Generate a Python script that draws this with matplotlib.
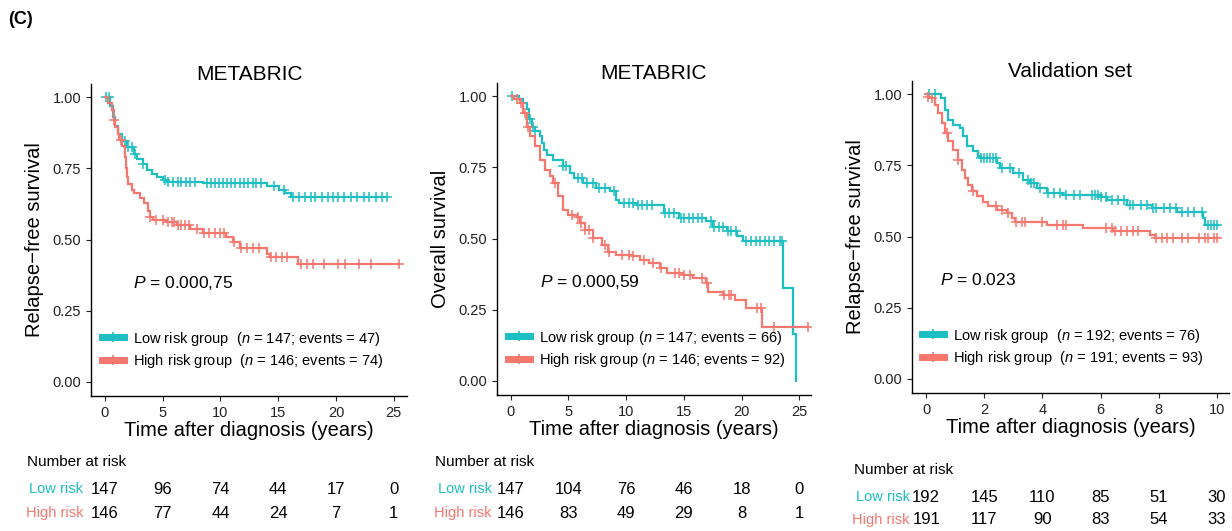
import numpy as np
import matplotlib
matplotlib.use("Agg")
import matplotlib.pyplot as plt
from matplotlib.lines import Line2D
import matplotlib.transforms as mtransforms

plt.rcParams['font.family'] = ['Liberation Sans', 'DejaVu Sans']
plt.rcParams['mathtext.fontset'] = 'custom'
plt.rcParams['mathtext.rm'] = 'Liberation Sans'
plt.rcParams['mathtext.it'] = 'Liberation Sans:italic'

LOW_COL = '#1DBFC2'
HIGH_COL = '#F5776E'

# ---- panel 1: METABRIC relapse-free survival ----
p1_low_t = [0, 0.4, 0.7, 0.9, 1.1, 1.5, 1.9, 2.5, 2.8, 3.3, 3.6, 4.1, 4.5, 5.0, 5.4, 8.5, 14.0, 15.1, 15.6, 16.1, 24.4]
p1_low_s = [1.0, 0.97, 0.93, 0.90, 0.87, 0.845, 0.826, 0.80, 0.785, 0.765, 0.745, 0.73, 0.72, 0.71, 0.703, 0.698, 0.69, 0.675, 0.665, 0.648, 0.648]
p1_low_cens = [0.1, 0.35, 1.7, 2.0, 2.3, 2.6, 3.3, 5.2, 5.5, 5.9, 6.3, 6.6, 7.0, 7.4, 7.8, 8.8, 9.2, 9.5, 9.9,
               10.2, 10.6, 10.9, 11.3, 11.7, 12.0, 12.4, 12.8, 13.1, 13.5, 14.6, 15.5, 16.3, 16.8, 17.3, 17.8,
               18.2, 18.8, 19.3, 19.7, 20.2, 20.7, 21.3, 21.8, 22.4, 22.9, 23.5, 24.0, 24.4]
p1_high_t = [0, 0.3, 0.6, 0.8, 0.9, 1.1, 1.2, 1.5, 1.7, 1.8, 1.9, 2.0, 2.3, 2.5, 3.0, 3.4, 3.7, 3.9, 4.2, 5.3,
             6.2, 7.4, 8.5, 10.5, 11.1, 11.7, 14.0, 14.3, 16.7, 25.5]
p1_high_s = [1.0, 0.98, 0.955, 0.92, 0.897, 0.87, 0.85, 0.83, 0.79, 0.75, 0.72, 0.697, 0.675, 0.662, 0.645,
             0.627, 0.60, 0.58, 0.57, 0.562, 0.55, 0.538, 0.523, 0.509, 0.492, 0.472, 0.45, 0.439, 0.413, 0.413]
p1_high_cens = [0.8, 1.4, 3.9, 4.4, 5.0, 5.5, 5.8, 6.0, 6.3, 6.6, 6.9, 7.3, 8.0, 8.6, 9.0, 9.5, 10.0, 10.3,
                11.2, 11.8, 12.3, 12.8, 13.3, 14.4, 14.8, 15.3, 15.8, 17.0, 17.5, 18.0, 19.0, 20.2, 20.8,
                22.0, 23.0, 25.5]
p1_risk_times = [0, 5, 10, 15, 20, 25]
p1_risk_low = [147, 96, 74, 44, 17, 0]
p1_risk_high = [146, 77, 44, 24, 7, 1]

# ---- panel 2: METABRIC overall survival ----
p2_low_t = [0, 0.7, 1.1, 1.4, 1.6, 1.8, 2.1, 2.5, 2.7, 2.9, 3.1, 3.7, 4.5, 5.1, 5.5, 6.3, 7.4, 8.6, 9.1, 9.4,
            10.9, 13.3, 14.6, 16.9, 17.5, 18.7, 19.6, 20.1, 23.6, 24.4, 24.7]
p2_low_s = [1.0, 0.99, 0.975, 0.955, 0.92, 0.894, 0.877, 0.86, 0.835, 0.81, 0.795, 0.777, 0.754, 0.73, 0.712,
            0.695, 0.677, 0.666, 0.636, 0.624, 0.618, 0.589, 0.572, 0.562, 0.542, 0.525, 0.51, 0.49, 0.325,
            0.163, 0.0]
p2_low_cens = [0.1, 1.7, 1.9, 2.1, 4.5, 4.8, 5.8, 6.2, 6.6, 7.1, 7.6, 8.2, 8.9, 9.8, 10.2, 10.6, 11.0, 11.4,
               11.8, 12.2, 13.4, 13.7, 14.1, 14.7, 15.0, 15.4, 15.8, 16.2, 16.6, 17.3, 17.6, 18.0, 18.4,
               18.8, 19.1, 19.5, 20.4, 20.8, 21.2, 21.6, 22.0, 22.4, 22.8, 23.3, 23.5]
p2_high_t = [0, 0.3, 0.8, 1.1, 1.4, 1.7, 2.1, 2.5, 3.0, 3.4, 3.7, 4.1, 4.5, 5.0, 5.7, 6.0, 6.4, 7.1, 7.9, 8.4,
             9.1, 10.6, 11.2, 12.0, 12.9, 13.5, 14.9, 15.8, 16.9, 17.1, 18.4, 19.4, 20.4, 21.8, 25.7]
p2_high_s = [1.0, 0.99, 0.976, 0.941, 0.894, 0.859, 0.824, 0.777, 0.742, 0.72, 0.695, 0.648, 0.601, 0.583,
             0.577, 0.554, 0.53, 0.501, 0.478, 0.454, 0.443, 0.437, 0.425, 0.413, 0.396, 0.378, 0.372, 0.36,
             0.343, 0.313, 0.302, 0.284, 0.255, 0.19, 0.19]
p2_high_cens = [0.5, 0.9, 1.2, 1.5, 3.8, 5.3, 5.8, 6.1, 6.4, 6.8, 7.1, 8.2, 8.5, 9.6, 10.2, 10.6, 11.5, 12.3,
                13.0, 14.2, 14.6, 15.0, 15.5, 16.6, 17.0, 18.5, 18.9, 19.1, 21.3, 21.7, 22.8, 25.7]
p2_risk_times = [0, 5, 10, 15, 20, 25]
p2_risk_low = [147, 104, 76, 46, 18, 0]
p2_risk_high = [146, 83, 49, 29, 8, 1]

# ---- panel 3: validation set relapse-free survival ----
p3_low_t = [0, 0.5, 0.65, 0.76, 0.93, 1.16, 1.28, 1.39, 1.62, 1.79, 1.9, 2.42, 2.54, 3.0, 3.34, 3.57, 3.8,
            4.14, 4.72, 5.98, 6.21, 6.9, 7.76, 8.62, 9.54, 9.6, 10.0]
p3_low_s = [1.0, 0.987, 0.946, 0.911, 0.893, 0.881, 0.852, 0.817, 0.80, 0.782, 0.776, 0.758, 0.74, 0.723,
            0.70, 0.688, 0.67, 0.652, 0.646, 0.64, 0.629, 0.611, 0.599, 0.587, 0.564, 0.541, 0.541]
p3_low_cens = [0.1, 0.3, 1.9, 2.0, 2.1, 2.2, 2.3, 2.4, 2.6, 2.9, 3.2, 3.5, 3.6, 3.7, 3.9, 4.2, 4.4, 4.6, 4.8,
               5.1, 5.3, 5.7, 5.8, 5.9, 6.0, 6.2, 6.4, 6.6, 6.8, 7.0, 7.1, 7.4, 7.6, 7.8, 7.9, 8.2, 8.4, 8.6,
               8.8, 9.0, 9.2, 9.5, 9.7, 9.8, 9.9, 10.0]
p3_high_t = [0, 0.05, 0.13, 0.3, 0.42, 0.53, 0.65, 0.76, 0.93, 1.1, 1.22, 1.33, 1.45, 1.56, 1.73, 1.96, 2.13,
             2.42, 2.77, 2.94, 3.06, 4.14, 5.41, 6.44, 7.7, 7.87, 10.0]
p3_high_s = [1.0, 0.99, 0.987, 0.964, 0.934, 0.899, 0.864, 0.835, 0.805, 0.77, 0.735, 0.706, 0.682, 0.659,
             0.641, 0.623, 0.606, 0.594, 0.582, 0.564, 0.55, 0.541, 0.529, 0.518, 0.506, 0.494, 0.494]
p3_high_cens = [0.05, 0.2, 0.7, 1.1, 1.6, 2.4, 2.6, 2.8, 3.1, 3.3, 3.4, 4.0, 4.5, 4.7, 4.8, 6.2, 6.4, 6.5,
                6.7, 6.9, 7.1, 7.3, 7.9, 8.1, 8.3, 8.5, 8.8, 9.0, 9.4, 9.6, 9.7, 9.9, 10.0]
p3_risk_times = [0, 2, 4, 6, 8, 10]
p3_risk_low = [192, 145, 110, 85, 51, 30]
p3_risk_high = [191, 117, 90, 83, 54, 33]

W, H = 1232, 531
fig = plt.figure(figsize=(W / 100, H / 100), dpi=100)


def px_axes(left, right, top, bottom):
    return fig.add_axes([left / W, 1 - bottom / H, (right - left) / W, (bottom - top) / H])


def km(ax, t, s, cens, col):
    t = np.asarray(t)
    s = np.asarray(s)
    ax.step(t, s, where='post', color=col, lw=1.6, solid_joinstyle='miter')
    cens = np.asarray(cens)
    idx = np.searchsorted(t, cens, side='right') - 1
    ax.plot(cens, s[idx], ls='none', marker='+', ms=6.5, mew=1.1, color=col)


def panel(box, title, ylabel, xlim, xticks, low, high, pval, ptx, labels, leg_anchor,
          risk_times, risk_low, risk_high, table_y, table_x0, lab_right):
    ax = px_axes(*box)
    km(ax, *low, LOW_COL)
    km(ax, *high, HIGH_COL)
    ax.set_xlim(*xlim)
    ax.set_ylim(-0.05, 1.047)
    ax.set_xticks(xticks)
    ax.set_yticks([0, 0.25, 0.5, 0.75, 1.0])
    ax.set_yticklabels(['0.00', '0.25', '0.50', '0.75', '1.00'])
    for sp in ['top', 'right']:
        ax.spines[sp].set_visible(False)
    for sp in ['left', 'bottom']:
        ax.spines[sp].set_linewidth(1.0)
    ax.tick_params(labelsize=10.5, length=3.5, width=0.8, colors='#222222', labelcolor='#222222')
    ax.set_title(title, fontsize=15, pad=3)
    ax.set_xlabel('Time after diagnosis (years)', fontsize=14.5, labelpad=1)
    ax.set_ylabel(ylabel, fontsize=14.5, labelpad=6)
    ax.text(ptx, 0.347, pval, fontsize=12.5, va='center', ha='left')
    handles = [Line2D([], [], color=LOW_COL, lw=5, marker='|', ms=7, mew=1.2),
               Line2D([], [], color=HIGH_COL, lw=5, marker='|', ms=7, mew=1.2)]
    ax.legend(handles, labels, loc='upper left', bbox_to_anchor=leg_anchor, frameon=False,
              fontsize=10.5, handlelength=1.5, handletextpad=0.6, labelspacing=0.3, borderpad=0,
              borderaxespad=0)

    tr = mtransforms.blended_transform_factory(ax.transData, fig.transFigure)
    fig.text(table_x0 / W, 1 - table_y[0] / H, 'Number at risk', fontsize=11, va='center', ha='left')
    fig.text(lab_right / W, 1 - table_y[1] / H, 'Low risk', fontsize=10.5, va='center', ha='right',
             color=LOW_COL)
    fig.text(lab_right / W, 1 - table_y[2] / H, 'High risk', fontsize=10.5, va='center', ha='right',
             color=HIGH_COL)
    for x, a, b in zip(risk_times, risk_low, risk_high):
        ax.text(x, 1 - table_y[1] / H, str(a), transform=tr, fontsize=12, ha='center', va='center')
        ax.text(x, 1 - table_y[2] / H, str(b), transform=tr, fontsize=12, ha='center', va='center')
    return ax


panel((91, 407, 84, 396), 'METABRIC', 'Relapse\u2212free survival', (-1.21, 26.15), [0, 5, 10, 15, 20, 25],
      (p1_low_t, p1_low_s, p1_low_cens), (p1_high_t, p1_high_s, p1_high_cens),
      r'$P$ = 0.000,75', 2.45,
      [r'Low risk group  ($n$ = 147; events = 47)', r'High risk group  ($n$ = 146; events = 74)'],
      (0.035, 0.213), p1_risk_times, p1_risk_low, p1_risk_high, (462, 489, 513), 27, 83)

panel((497, 811, 83, 395), 'METABRIC', 'Overall survival', (-1.19, 26.0), [0, 5, 10, 15, 20, 25],
      (p2_low_t, p2_low_s, p2_low_cens), (p2_high_t, p2_high_s, p2_high_cens),
      r'$P$ = 0.000,59', 2.5,
      [r'Low risk group ($n$ = 147; events = 66)', r'High risk group ($n$ = 146; events = 92)'],
      (0.035, 0.213), p2_risk_times, p2_risk_low, p2_risk_high, (462, 489, 513), 435, 492)

panel((912, 1229, 81, 393), 'Validation set', 'Relapse\u2212free survival', (-0.49, 10.42),
      [0, 2, 4, 6, 8, 10],
      (p3_low_t, p3_low_s, p3_low_cens), (p3_high_t, p3_high_s, p3_high_cens),
      r'$P$ = 0.023', 0.47,
      [r'Low risk group  ($n$ = 192; events = 76)', r'High risk group  ($n$ = 191; events = 93)'],
      (0.033, 0.213), p3_risk_times, p3_risk_low, p3_risk_high, (470, 497, 520), 854, 910)

fig.text(8 / W, 1 - 20 / H, '(C)', fontsize=13, fontweight='bold', va='center', ha='left')

fig.savefig('out.png', dpi=100)
